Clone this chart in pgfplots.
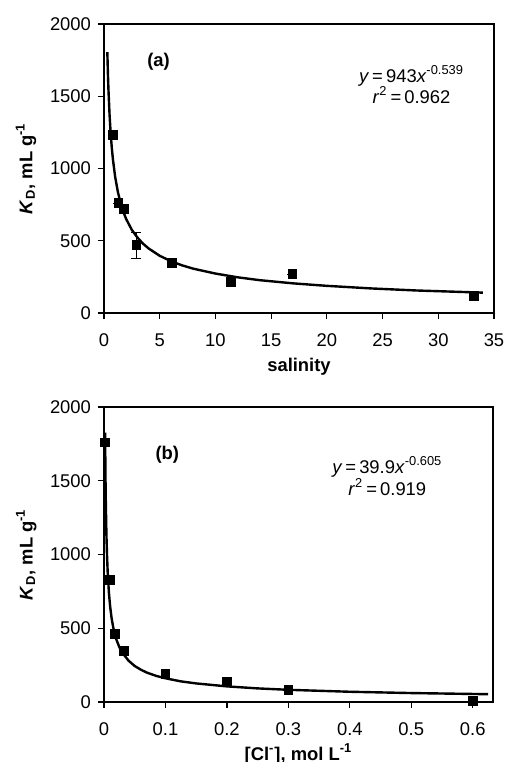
\documentclass[border=0pt]{standalone}
\usepackage{fontspec}
\setmainfont{Liberation Sans}
\usepackage{pgfplots}
\pgfplotsset{compat=1.18}

\newcommand{\fs}{\fontsize{9.2pt}{11pt}\selectfont}

% Measured K_D values against salinity (a) and chloride (b)
\pgfplotstableread{
x     y     e
0.8   1230  0
1.3   760   0
1.8   720   0
2.9   470   90
6.1   345   0
11.4  215   0
16.9  268   0
33.2  118   0
}\salinity

\pgfplotstableread{
x      y
0.002  1760
0.009  830
0.018  460
0.033  345
0.1    190
0.2    140
0.3    80
0.6    10
}\chloride

% Power-law fits, y = 943 x^-0.539 and y = 39.9 x^-0.605, tabulated
\pgfplotstableread{
x     y
0.3   1805
0.35  1660
0.4   1545
0.5   1370
0.6   1242
0.7   1143
0.8   1064
1.0   943
1.25  836
1.5   758
1.75  697
2     649
2.5   575
3     522
3.5   480
4     447
5     396
6     359
7     330
8     307
10    273
12    247
14    227
17    205
20    188
24    170
28    156
34    141
}\fitA

\pgfplotstableread{
x       y
0.0018  1826
0.002   1713
0.0025  1497
0.003   1341
0.004   1126
0.005   984
0.006   881
0.008   741
0.01    647
0.0125  565
0.015   506
0.02    425
0.025   372
0.03    333
0.04    280
0.05    244
0.06    219
0.07    199
0.085   177
0.1     161
0.125   140
0.15    126
0.2     106
0.25    92.3
0.3     82.7
0.4     69.5
0.5     60.7
0.625   53.0
}\fitB

\pgfplotsset{
  kd/.style={
    scale only axis,
    axis line style={line width=0.75pt},
    tick style={line width=0.6pt, black},
    major tick length=3pt,
    tick align=outside,
    xtick pos=bottom, ytick pos=left,
    ymin=0, ymax=2000, ytick={0,500,1000,1500,2000},
    scaled ticks=false,
    /pgf/number format/assume math mode=true,
    /pgf/number format/1000 sep={},
    tick label style={font=\fs},
    xticklabel style={yshift=-4pt},
    label style={font=\fs\bfseries},
    xlabel style={at={(axis description cs:0.5,0)}, anchor=base, yshift=-29pt},
    ylabel style={at={(axis description cs:-0.2,0.5)}, anchor=center},
    ylabel={\textit{K}\textsubscript{D}, mL g\textsuperscript{-1}},
  },
  fit/.style={black, line width=1.2pt, line join=round, no markers},
  pts/.style={only marks, mark=square*, mark size=2.2pt, black},
}

\begin{document}
\begin{tikzpicture}
\path[use as bounding box] (0,0) rectangle (253pt,-381pt);

\begin{axis}[kd, at={(52pt,-156.5pt)}, anchor=south west,
  width=195pt, height=144.5pt,
  xmin=0, xmax=35, xtick={0,5,...,35},
  xlabel={salinity}]
  \addplot[fit] table {\fitA};
  \addplot[pts, error bars/.cd, y dir=both, y explicit,
    error mark=-,
    error bar style={line width=0.5pt, black},
    error mark options={rotate=90, black, line width=0.5pt, mark size=2.5pt}]
    table[y error=e] {\salinity};
  \node[font=\fs\bfseries] at (axis cs:4.9,1737) {(a)};
  \node[font=\fs] at (axis cs:27.6,1640) {\textit{y}\,=\,943\textit{x}\textsuperscript{-0.539}};
  \node[font=\fs] at (axis cs:27.6,1509) {\textit{r}\textsuperscript{2}\,=\,0.962};
\end{axis}

\begin{axis}[kd, at={(52pt,-351pt)}, anchor=south west,
  width=194.5pt, height=147.5pt,
  xmin=0, xmax=0.633, xtick={0,0.1,...,0.6},
  xticklabels={0,0.1,0.2,0.3,0.4,0.5,0.6},
  xlabel={[Cl\textsuperscript{-}], mol L\textsuperscript{-1}}]
  \addplot[fit] table {\fitB};
  \addplot[pts] table {\chloride};
  \node[font=\fs\bfseries] at (axis cs:0.103,1676) {(b)};
  \node[font=\fs] at (axis cs:0.461,1595) {\textit{y}\,=\,39.9\textit{x}\textsuperscript{-0.605}};
  \node[font=\fs] at (axis cs:0.461,1459) {\textit{r}\textsuperscript{2}\,=\,0.919};
\end{axis}
\end{tikzpicture}
\end{document}
